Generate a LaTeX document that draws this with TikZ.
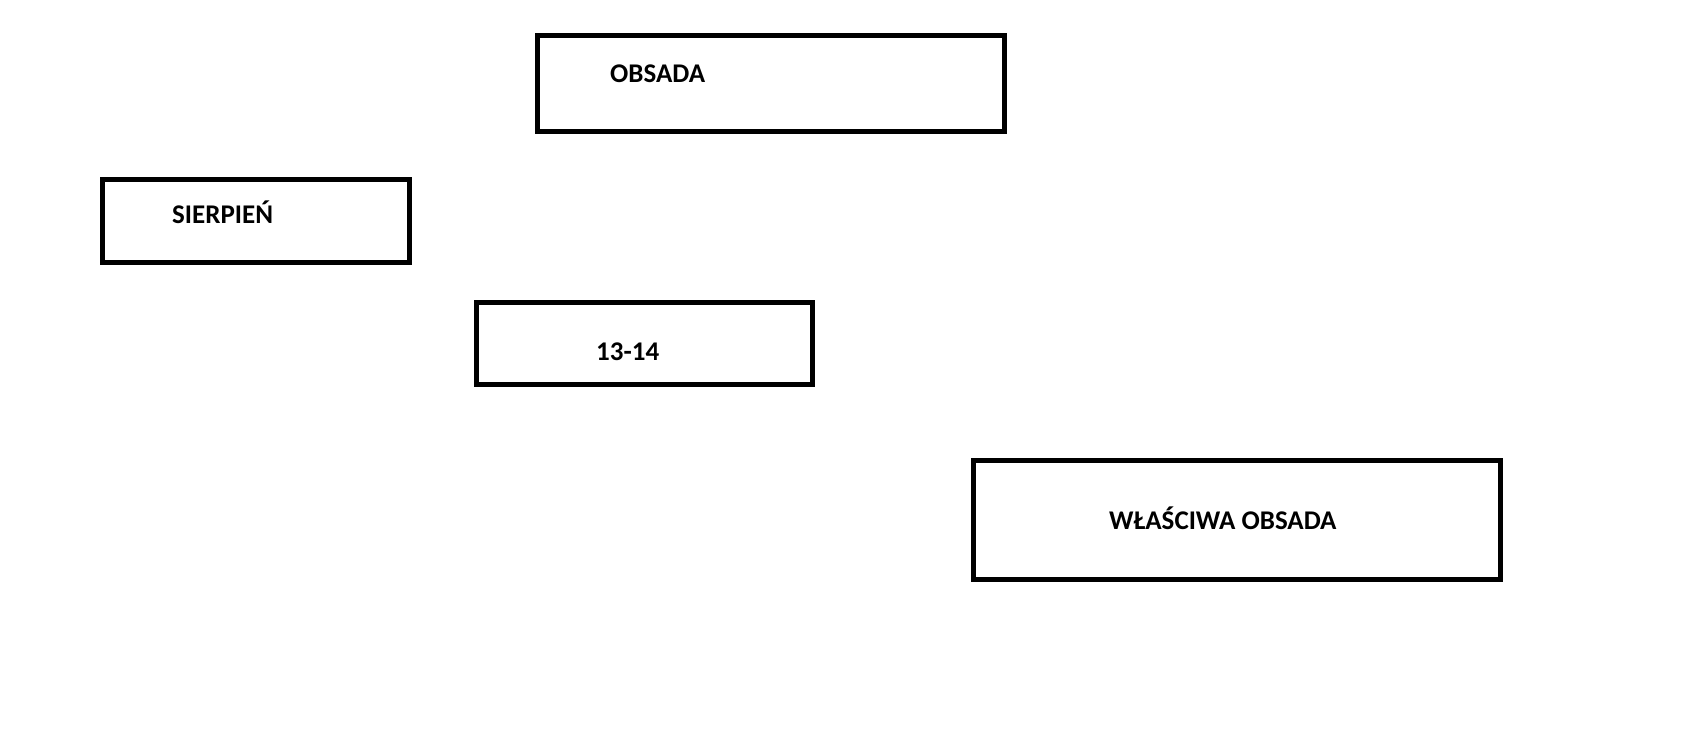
\documentclass[tikz,border=0pt]{standalone}
\usepackage{fontspec}
\setmainfont{Carlito}
\begin{document}
\begin{tikzpicture}[x=1pt,y=-1pt,
  box/.style={draw=black, line width=5pt, rectangle, inner sep=0pt},
  lbl/.style={anchor=base west, inner sep=0pt, font=\fontsize{27}{30}\selectfont\bfseries}]
\useasboundingbox[fill=white] (0,0) rectangle (1705,736);
\node[box, minimum width=467pt, minimum height=96pt] (b1) at (771,83.5) {};
\node[box, minimum width=307pt, minimum height=83pt] (b2) at (256,221) {};
\node[box, minimum width=336pt, minimum height=82pt] (b3) at (644.5,343.5) {};
\node[box, minimum width=527pt, minimum height=119pt] (b4) at (1237,520) {};
\node[lbl] (t1) at (610,82) {OBSADA};
\node[lbl] (t2) at (172,223) {SIERPIEŃ};
\node[lbl] (t3) at (596,360) {13-14};
\node[lbl] (t4) at (1109,529) {WŁAŚCIWA OBSADA};
\end{tikzpicture}
\end{document}
